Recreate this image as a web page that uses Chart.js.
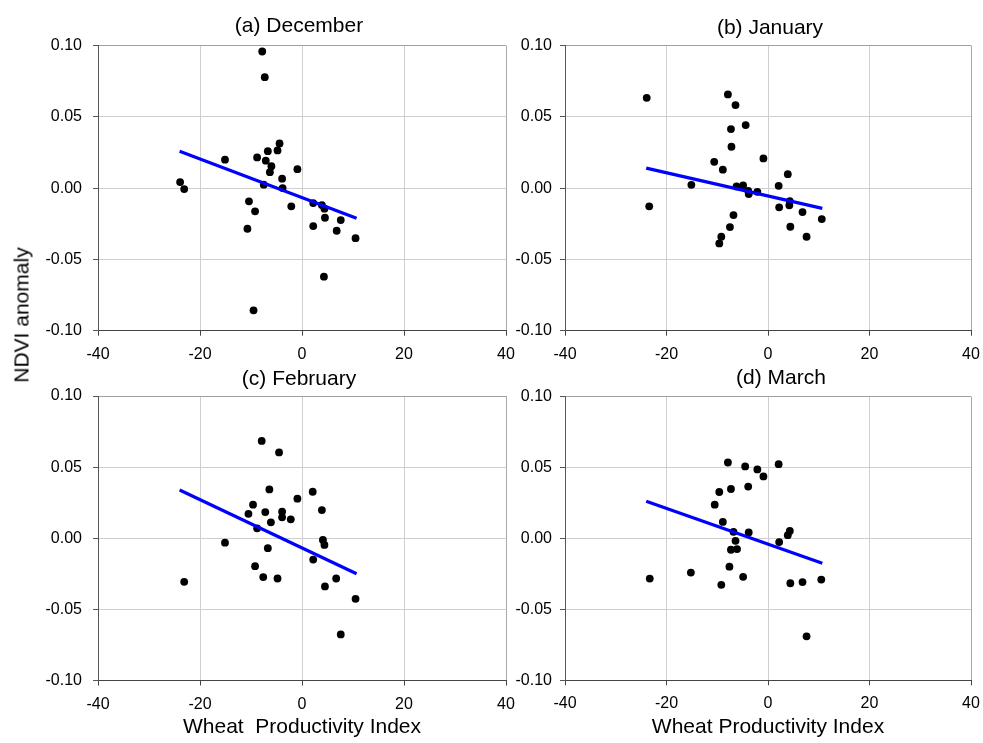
<!DOCTYPE html>
<html>
<head>
<meta charset="utf-8">
<script src="https://cdn.jsdelivr.net/npm/chart.js@4.4.1/dist/chart.umd.min.js"></script>
<style>
  html, body { margin: 0; padding: 0; background: #fff; overflow: hidden; }
  body { width: 983px; height: 743px; position: relative; font-family: "Liberation Sans", Arial, sans-serif; }
  canvas { position: absolute; }
  .title { position: absolute; font-size: 21px; line-height: 21px; color: #000; white-space: pre; transform: translate(-50%, -50%); }
  .ylab { position: absolute; font-size: 21px; line-height: 21px; color: #000; white-space: pre; transform: translate(-50%, -50%) rotate(-90deg); }
</style>
</head>
<body>
<canvas id="cDec" width="520" height="372" style="left:0;top:0"></canvas>
<canvas id="cJan" width="503" height="372" style="left:480px;top:0"></canvas>
<canvas id="cFeb" width="520" height="383" style="left:0;top:360px"></canvas>
<canvas id="cMar" width="503" height="383" style="left:480px;top:360px"></canvas>

<div class="title" style="left:299px;top:24px">(a) December</div>
<div class="title" style="left:770px;top:26px">(b) January</div>
<div class="title" style="left:299px;top:377px">(c) February</div>
<div class="title" style="left:781px;top:376px">(d) March</div>
<div class="ylab" style="left:21px;top:315px">NDVI anomaly</div>

<script>
// Wheat productivity index (x) and NDVI anomaly (y) per month
const decX = [-7.8, -7.3, -4.4, -4.8, -6.7, -15.1, -8.8, -7.1, -6.0, -6.3, -0.9, -3.9, -7.5, -3.8, -23.9, -23.1, -10.4, -9.2, -10.7, -2.1, 2.2, 3.9, 4.4, 4.5, 2.2, 7.6, 6.8, 10.5, 4.3, -9.5];
const decY = [0.0958, 0.0778, 0.0313, 0.0264, 0.0259, 0.0199, 0.0215, 0.0192, 0.0154, 0.0112, 0.0133, 0.0066, 0.0024, 0.0000, 0.0042, -0.0007, -0.0093, -0.0163, -0.0285, -0.0128, -0.0105, -0.0119, -0.0144, -0.0208, -0.0266, -0.0224, -0.0299, -0.0351, -0.0621, -0.0857];

const janX = [-23.9, -23.4, -7.9, -6.4, -4.4, -7.3, -7.2, -0.9, -10.6, -8.9, 3.9, -15.1, -6.2, -4.9, 2.1, -3.9, -3.8, -2.1, 4.3, 4.2, 2.2, 6.8, 10.6, -6.8, -7.5, 4.4, 7.6, -9.2, -9.6];
const janY = [0.0633, -0.0128, 0.0657, 0.0582, 0.0442, 0.0414, 0.0290, 0.0208, 0.0184, 0.0129, 0.0098, 0.0023, 0.0012, 0.0019, 0.0016, -0.0019, -0.0042, -0.0026, -0.0091, -0.0121, -0.0135, -0.0168, -0.0217, -0.0189, -0.0273, -0.0271, -0.0341, -0.0341, -0.0388];

const febX = [-7.9, -4.5, -6.4, 2.1, -0.9, -9.6, -10.5, -7.2, -3.9, -3.9, -2.2, 3.9, -6.1, -8.8, -15.1, 4.1, 4.4, -6.7, 2.2, -9.2, -7.6, -4.8, -23.1, 6.7, 4.5, 10.5, 7.6];
const febY = [0.0684, 0.0603, 0.0343, 0.0327, 0.0278, 0.0236, 0.0172, 0.0184, 0.0187, 0.0147, 0.0133, 0.0198, 0.0112, 0.0070, -0.0031, -0.0012, -0.0047, -0.0070, -0.0150, -0.0196, -0.0273, -0.0283, -0.0306, -0.0283, -0.0339, -0.0426, -0.0676];

const marX = [-7.9, -4.5, 2.1, -2.1, -0.9, -3.9, -7.3, -9.6, -10.5, -8.9, -6.8, -3.8, 4.3, 3.9, 2.2, -6.4, -7.3, -6.1, -7.6, -15.2, -23.3, -4.9, -9.2, 4.4, 6.8, 10.5, 7.6];
const marY = [0.0535, 0.0507, 0.0523, 0.0486, 0.0437, 0.0365, 0.0348, 0.0327, 0.0238, 0.0116, 0.0046, 0.0042, 0.0053, 0.0023, -0.0026, -0.0017, -0.0080, -0.0075, -0.0199, -0.0241, -0.0283, -0.0271, -0.0327, -0.0316, -0.0308, -0.0290, -0.0690];

// fitted trend lines, values at the ends of the x range
const trendX = [-24, 10.7];
const decTrend = [0.0259, -0.0212];
const janTrend = [0.0140, -0.0142];
const febTrend = [0.0339, -0.0250];
const marTrend = [0.0261, -0.0175];

const xTicks = [-40, -20, 0, 20, 40];
const yTicks = [-0.10, -0.05, 0.00, 0.05, 0.10];

const FONT = '"Liberation Sans", Arial, sans-serif';

function makePanel(id, xs, ys, trend, opt) {
  const pts = xs.map((x, i) => ({ x: x, y: ys[i] }));
  const line = trendX.map((x, i) => ({ x: x, y: trend[i] }));
  return new Chart(document.getElementById(id), {
    type: 'scatter',
    data: {
      datasets: [
        {
          type: 'line',
          data: line,
          borderColor: '#0000ff',
          borderWidth: 3.2,
          pointRadius: 0,
          fill: false,
          order: 0
        },
        {
          data: pts,
          backgroundColor: '#000',
          borderWidth: 0,
          pointRadius: 3.9,
          order: 1
        }
      ]
    },
    options: {
      responsive: false,
      animation: false,
      devicePixelRatio: 1,
      layout: { padding: { left: 0, right: opt.padRight, top: opt.padTop, bottom: 0 } },
      plugins: { legend: { display: false }, tooltip: { enabled: false } },
      scales: {
        x: {
          type: 'linear',
          min: -40, max: 40,
          afterBuildTicks: s => { s.ticks = xTicks.map(v => ({ value: v })); },
          afterFit: s => { s.height = opt.xHeight; s.paddingLeft = 0; s.paddingRight = 0; },
          border: { color: '#444', width: 1 },
          grid: {
            color: c => (c.tick && c.tick.value === 40) ? '#a8a8a8' : '#cfcfcf',
            tickColor: '#444',
            tickLength: 5
          },
          ticks: { color: '#000', padding: 9, font: { family: FONT, size: 16 }, callback: v => String(v) },
          title: {
            display: !!opt.xTitle,
            text: opt.xTitle || '',
            color: '#000',
            font: { family: FONT, size: 21 },
            padding: { top: 0, bottom: 3 }
          }
        },
        y: {
          type: 'linear',
          min: -0.1, max: 0.1,
          afterBuildTicks: s => { s.ticks = yTicks.map(v => ({ value: v })); },
          afterFit: s => { s.width = opt.yWidth; },
          border: { color: '#555', width: 1 },
          grid: {
            color: c => (c.tick && c.tick.value > 0.09) ? '#a0a0a0' : '#cfcfcf',
            tickColor: '#555',
            tickLength: 5
          },
          ticks: { color: '#000', padding: opt.yPad, font: { family: FONT, size: 16 }, callback: v => Number(v).toFixed(2) }
        }
      }
    }
  });
}

makePanel('cDec', decX, decY, decTrend, { padRight: 14, padTop: 45.5, xHeight: 41.3, yWidth: 98, yPad: 11 });
makePanel('cJan', janX, janY, janTrend, { padRight: 12, padTop: 45.5, xHeight: 41.3, yWidth: 85, yPad: 8 });
makePanel('cFeb', febX, febY, febTrend, { padRight: 14, padTop: 36, xHeight: 62.5, yWidth: 98, yPad: 11, xTitle: 'Wheat  Productivity Index' });
makePanel('cMar', marX, marY, marTrend, { padRight: 12, padTop: 36.5, xHeight: 62.7, yWidth: 85, yPad: 8, xTitle: 'Wheat Productivity Index' });
</script>
</body>
</html>
